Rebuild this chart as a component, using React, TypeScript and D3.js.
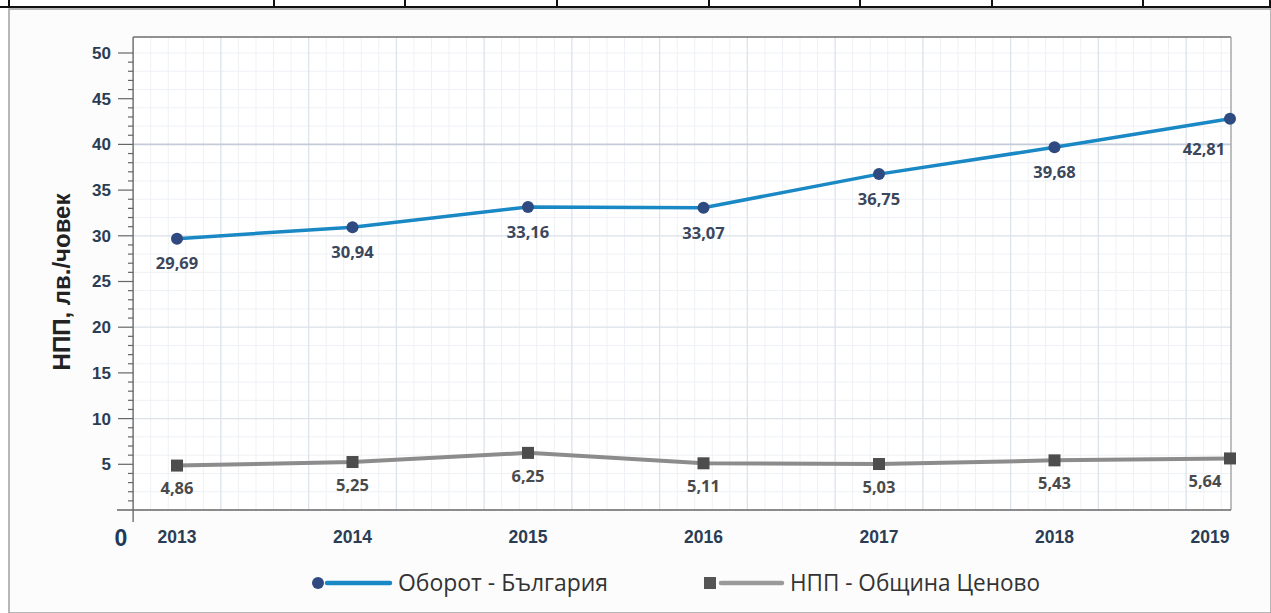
import React from "react";
import * as d3 from "d3";

const years = [2013, 2014, 2015, 2016, 2017, 2018, 2019];
const oborot = [29.69, 30.94, 33.16, 33.07, 36.75, 39.68, 42.81];
const npp = [4.86, 5.25, 6.25, 5.11, 5.03, 5.43, 5.64];
const yTicks = [5, 10, 15, 20, 25, 30, 35, 40, 45, 50];
const seriesNames = ["Оборот - България", "НПП - Община Ценово"];
const yTitle = "НПП, лв./човек";
const tableCols = [9, 274, 405, 557, 709, 860, 992, 1143, 1270];

const W = 1271;
const H = 613;

const fmt = (v: number) => v.toFixed(2).replace(".", ",");

export default function App() {
  const x = d3.scaleLinear().domain([2013, 2019]).range([177, 1230]);
  const y = d3.scaleLinear().domain([0, 50]).range([510, 53]);
  const left = x(2012.75);
  const right = 1231;
  const top = 37;
  const bottom = y(0);

  const minorV = d3.range(0, 63).map((k) => 2012.75 + k * 0.1).filter((v) => x(v) <= right);
  const majorV = d3.range(0, 13).map((k) => 2012.75 + k * 0.5).filter((v) => x(v) <= right);
  const minorH = d3.range(2, 52, 2);
  const majorH = [10, 20, 30, 40];
  const minorTicks = d3.range(1, 51, 1);

  const line = d3
    .line<number>()
    .x((_, i) => x(years[i]))
    .y((d) => y(d));

  const numFont = "'Open Sans', 'DejaVu Sans', sans-serif";
  const axFont = "'Liberation Sans', Arial, sans-serif";

  return (
    <svg
      width={W}
      height={H}
      style={{ position: "absolute", left: 0, top: 0, background: "#ffffff" }}
    >
      {/* outer frame */}
      <rect x={9} y={9} width={W - 9} height={H - 9} fill="#fcfcfc" stroke="#a0a0a0" strokeWidth={1.5} />
      {/* table border at top */}
      <line x1={0} x2={W} y1={7} y2={7} stroke="#111" strokeWidth={2} />
      {tableCols.map((c) => (
        <line key={c} x1={c} x2={c} y1={0} y2={7} stroke="#111" strokeWidth={2} />
      ))}

      {/* plot area */}
      <rect x={left} y={top} width={right - left} height={bottom - top} fill="#ffffff" />
      {minorV.map((v, i) => (
        <line key={"mv" + i} x1={x(v)} x2={x(v)} y1={top} y2={bottom} stroke="#eef1f5" strokeWidth={1} />
      ))}
      {minorH.map((v) => (
        <line key={"mh" + v} x1={left} x2={right} y1={y(v)} y2={y(v)} stroke="#eef1f5" strokeWidth={1} />
      ))}
      {majorV.map((v, i) => (
        <line key={"Mv" + i} x1={x(v)} x2={x(v)} y1={top} y2={bottom} stroke="#dde3eb" strokeWidth={1.2} />
      ))}
      {majorH.map((v) => (
        <line
          key={"Mh" + v}
          x1={left}
          x2={right}
          y1={y(v)}
          y2={y(v)}
          stroke={v === 40 ? "#c3ccd8" : "#dde3eb"}
          strokeWidth={v === 40 ? 1.8 : 1.2}
        />
      ))}
      {/* frame top/right */}
      <line x1={left} x2={right} y1={top} y2={top} stroke="#6e6e6e" strokeWidth={1.5} />
      <line x1={right} x2={right} y1={top} y2={bottom} stroke="#a8a8a8" strokeWidth={1.5} />
      {/* axes */}
      <line x1={left} x2={left} y1={top} y2={bottom + 12} stroke="#777" strokeWidth={1.5} />
      <line x1={117} x2={right} y1={bottom} y2={bottom} stroke="#666" strokeWidth={1.5} />

      {minorTicks.map((v) => (
        <line
          key={"t" + v}
          x1={v % 5 === 0 ? 118 : 128}
          x2={left}
          y1={y(v)}
          y2={y(v)}
          stroke="#666"
          strokeWidth={1.2}
        />
      ))}
      {yTicks.map((v) => (
        <text
          key={"yl" + v}
          x={111}
          y={y(v)}
          dy="0.35em"
          textAnchor="end"
          fontFamily={axFont}
          fontWeight="bold"
          fontSize={17}
          fill="#2a3d55"
        >
          {v}
        </text>
      ))}
      <text x={121} y={538} dy="0.35em" textAnchor="middle" fontFamily={axFont} fontWeight="bold" fontSize={23} fill="#1e3a5a">
        0
      </text>

      {years.map((yr, i) => (
        <text
          key={"xl" + yr}
          x={i === years.length - 1 ? x(yr) - 20 : x(yr)}
          y={537}
          dy="0.35em"
          textAnchor="middle"
          fontFamily={axFont}
          fontWeight="bold"
          fontSize={17.5}
          fill="#2a3d55"
        >
          {yr}
        </text>
      ))}

      <text
        transform={`translate(62,282) rotate(-90)`}
        textAnchor="middle"
        dy="0.35em"
        fontFamily={axFont}
        fontWeight="bold"
        fontSize={24}
        fill="#222"
      >
        {yTitle}
      </text>

      {/* series */}
      <path d={line(npp) || ""} fill="none" stroke="#8c8c8c" strokeWidth={4} />
      <path d={line(oborot) || ""} fill="none" stroke="#1a88c4" strokeWidth={3.5} />
      {npp.map((v, i) => (
        <rect key={"sq" + i} x={x(years[i]) - 6} y={y(v) - 6} width={12} height={12} fill="#4d4d4d" />
      ))}
      {oborot.map((v, i) => (
        <circle key={"c" + i} cx={x(years[i])} cy={y(v)} r={6} fill="#2f4a80" />
      ))}

      {oborot.map((v, i) => {
        const last = i === years.length - 1;
        return (
          <text
            key={"lo" + i}
            x={last ? x(years[i]) - 26 : x(years[i])}
            y={y(v) + (last ? 31 : 25)}
            dy="0.35em"
            textAnchor="middle"
            fontFamily={numFont}
            fontWeight="bold"
            fontSize={16.5}
            fill="#3b475c"
          >
            {fmt(v)}
          </text>
        );
      })}
      {npp.map((v, i) => {
        const last = i === years.length - 1;
        return (
          <text
            key={"ln" + i}
            x={last ? x(years[i]) - 25 : x(years[i])}
            y={y(v) + 23}
            dy="0.35em"
            textAnchor="middle"
            fontFamily={numFont}
            fontWeight="bold"
            fontSize={16.5}
            fill="#4a4a4a"
          >
            {fmt(v)}
          </text>
        );
      })}

      {/* legend */}
      <circle cx={318} cy={583} r={6} fill="#2f4a80" />
      <line x1={327} x2={390} y1={583} y2={583} stroke="#1a88c4" strokeWidth={4.5} strokeLinecap="round" />
      <text x={398} y={583} dy="0.35em" fontFamily={numFont} fontSize={24} fill="#333" textLength={210} lengthAdjust="spacingAndGlyphs">
        {seriesNames[0]}
      </text>
      <rect x={704} y={577} width={12} height={12} fill="#555" />
      <line x1={721} x2={782} y1={583} y2={583} stroke="#9a9a9a" strokeWidth={4.5} strokeLinecap="round" />
      <text x={790} y={583} dy="0.35em" fontFamily={numFont} fontSize={24} fill="#333" textLength={250} lengthAdjust="spacingAndGlyphs">
        {seriesNames[1]}
      </text>
    </svg>
  );
}
